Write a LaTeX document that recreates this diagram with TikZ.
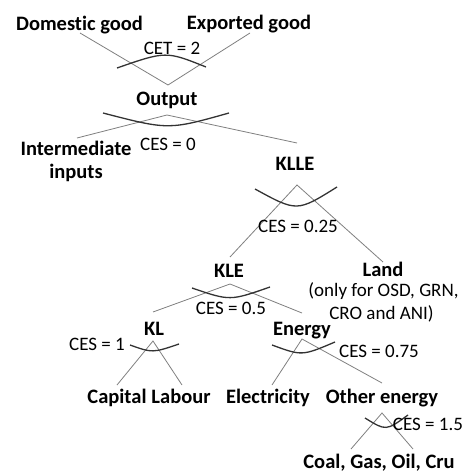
\documentclass[tikz,border=0pt]{standalone}
\usepackage{fontspec}
\setmainfont[Ligatures={NoCommon}]{Carlito}
\tikzset{
  lbl/.style={font=\fontsize{20.5}{24}\selectfont\bfseries, inner sep=0pt, anchor=base},
  par/.style={font=\fontsize{19}{22}\selectfont, inner sep=0pt, anchor=base},
  branch/.style={draw=black!50, line width=0.8pt},
  elas/.style={draw=black!80, line width=1.3pt},
}
\begin{document}
\begin{tikzpicture}[x=1pt,y=-1pt]
\useasboundingbox[fill=white] (0,0) rectangle (466,473);

% --- top level: CET ---
\node[lbl] (dom) at (79.5,31) {Domestic good};
\node[lbl] (exp) at (249,30) {Exported good};
\node[par] (cet) at (172,55) {CET = 2};
\coordinate (domend) at (80,33);
\coordinate (expend) at (250,33);
\coordinate (cetapex) at (168,85);
\coordinate (cetL) at (117,68);
\coordinate (cetR) at (206,67);
\draw[branch] (domend) -- (cetapex) -- (expend);
\draw[elas] (cetL) .. controls (166,51) .. (cetR);

% --- Output ---
\node[lbl] (out) at (167,106) {Output};
\coordinate (outapex) at (167,115);
\coordinate (intend) at (77,138);
\coordinate (klleend) at (297,143);
\coordinate (outL) at (103,113);
\coordinate (outR) at (229,113);
\draw[branch] (intend) -- (outapex) -- (klleend);
\draw[elas] (outL) .. controls (168.5,130) .. (outR);
\node[par] (ces0) at (168,150) {CES = 0};
\node[lbl] (int1) at (76,156) {Intermediate};
\node[lbl] (int2) at (76,178) {inputs};

% --- KLLE ---
\node[lbl] (klle) at (295,170) {KLLE};
\coordinate (klleapex) at (297,185);
\coordinate (kleend) at (230,257);
\coordinate (landend) at (383,262);
\coordinate (klleL) at (255,189);
\coordinate (klleR) at (337,187);
\draw[branch] (kleend) -- (klleapex) -- (landend);
\draw[elas] (klleL) .. controls (297,212) .. (klleR);
\node[par] (ces025) at (298,232) {CES = 0.25};

% --- Land ---
\node[lbl] (land) at (383,276) {Land};
\node[par] (land2) at (383.5,296) {(only for OSD, GRN,};
\node[par] (land3) at (381.5,319) {CRO and ANI)};

% --- KLE ---
\node[lbl] (kle) at (229,277) {KLE};
\coordinate (kleapex) at (230,284);
\coordinate (klend) at (153,312);
\coordinate (energyend) at (302,313);
\coordinate (kleL) at (192,288);
\coordinate (kleR) at (270,287);
\draw[branch] (klend) -- (kleapex) -- (energyend);
\draw[elas] (kleL) .. controls (230,301) .. (kleR);
\node[par] (ces05) at (231,314) {CES = 0.5};

% --- KL ---
\node[lbl] (kl) at (154,335) {KL};
\coordinate (klapex) at (153,341);
\coordinate (capend) at (117,385);
\coordinate (labend) at (182,385);
\coordinate (klL) at (130,345);
\coordinate (klR) at (179,344);
\draw[branch] (capend) -- (klapex) -- (labend);
\draw[elas] (klL) .. controls (152.5,353) .. (klR);
\node[par] (ces1) at (97,350) {CES = 1};

% --- Energy ---
\node[lbl] (energy) at (302,335) {Energy};
\coordinate (enapex) at (302,339);
\coordinate (elecend) at (272,385);
\coordinate (otherend) at (382,383);
\coordinate (enL) at (272,345);
\coordinate (enR) at (335,342);
\draw[branch] (elecend) -- (enapex) -- (otherend);
\draw[elas] (enL) .. controls (302,356) .. (enR);
\node[par] (ces075) at (379,357) {CES = 0.75};

% --- bottom row ---
\node[lbl] (capital) at (117,403) {Capital};
\node[lbl] (labour) at (181,403) {Labour};
\node[lbl] (elec) at (268,403) {Electricity};
\node[lbl] (other) at (382,403) {Other energy};

% --- Other energy ---
\coordinate (otapex) at (382,413);
\coordinate (coalL) at (351,449);
\coordinate (coalR) at (413,449);
\coordinate (otL) at (365,418);
\coordinate (otR) at (408,415);
\draw[branch] (coalL) -- (otapex) -- (coalR);
\draw[elas] (otL) .. controls (386,431) .. (otR);
\node[par] (ces15) at (428,430) {CES = 1.5};
\node[lbl] (coal) at (379,468) {Coal, Gas, Oil, Cru};
\end{tikzpicture}
\end{document}
